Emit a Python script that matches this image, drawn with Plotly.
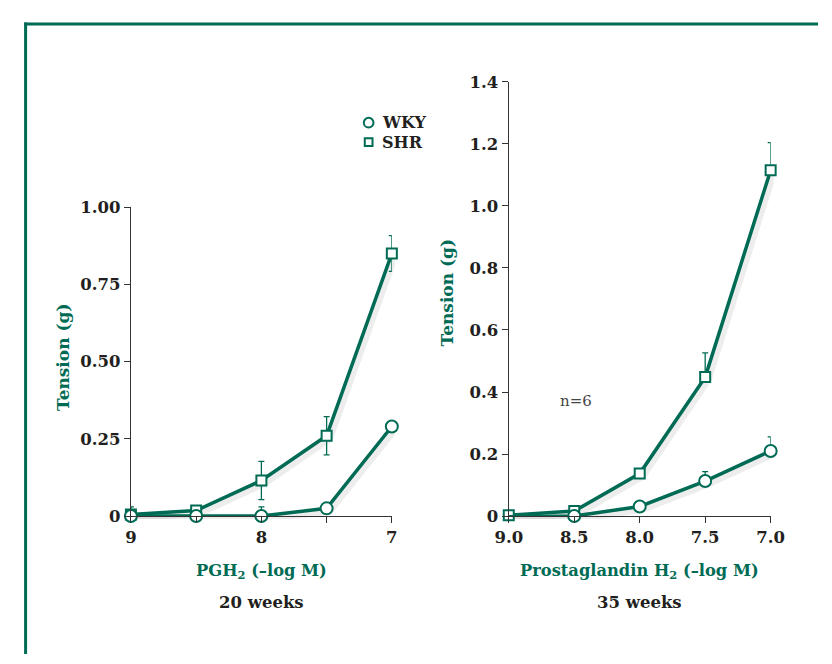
import plotly.graph_objects as go

# ---- data ----
conc_20 = [9, 8.5, 8, 7.5, 7]
wky_20 = [0.0, 0.0, 0.0, 0.025, 0.29]
wky_20_err = [0.0, 0.0, 0.03, 0.0, 0.0]
shr_20 = [0.005, 0.018, 0.115, 0.26, 0.85]
shr_20_err = [0.025, 0.0, 0.062, 0.062, 0.058]

conc_35 = [9.0, 8.5, 8.0, 7.5, 7.0]
wky_35 = [-0.002, 0.0, 0.031, 0.113, 0.21]
wky_35_err = [0.0, 0.0, 0.0, 0.03, 0.045]
shr_35 = [0.003, 0.016, 0.137, 0.448, 1.115]
shr_35_err = [0.0, 0.0, 0.0, 0.078, 0.089]

ticks_20 = [9, 8.5, 8, 7.5, 7]
ticklabels_20 = ["9", "", "8", "", "7"]
ticks_35 = [9.0, 8.5, 8.0, 7.5, 7.0]
ticklabels_35 = ["9.0", "8.5", "8.0", "7.5", "7.0"]
yticks_20 = [0, 0.25, 0.5, 0.75, 1.0]
yticklabels_20 = ["0", "0.25", "0.50", "0.75", "1.00"]
yticks_35 = [0, 0.2, 0.4, 0.6, 0.8, 1.0, 1.2, 1.4]
yticklabels_35 = ["0", "0.2", "0.4", "0.6", "0.8", "1.0", "1.2", "1.4"]

GREEN = "#006B54"
DARK = "#231F20"
W, H = 832, 664
TICKFONT = dict(family="DejaVu Serif", size=16.5, color=DARK, weight="bold")

def px_x(p):
    return p / W

def px_y(p):
    return 1 - p / H

dom_x1 = [px_x(121), px_x(391)]
dom_y1 = [px_y(522), px_y(204)]
dom_x2 = [px_x(512), px_x(783)]
dom_y2 = [px_y(522), px_y(75)]
sdx, sdy = 3 / W, 3 / H

fig = go.Figure()

# soft drop shadows: same data on invisible axes shifted by a few pixels (lower layer)
for xs, ys, xa, ya in [(conc_20, shr_20, "x", "y"), (conc_20, wky_20, "x", "y"),
                       (conc_35, shr_35, "x2", "y2"), (conc_35, wky_35, "x2", "y2")]:
    fig.add_trace(go.Scatter(x=xs, y=ys, xaxis=xa, yaxis=ya, mode="lines",
                             line=dict(color="rgba(0,0,0,0.07)", width=7),
                             hoverinfo="skip", showlegend=False, cliponaxis=False))

def add_series(xs, ys, err, sym, xa, ya, both, size):
    fig.add_trace(go.Scatter(
        x=xs, y=ys, xaxis=xa, yaxis=ya, mode="lines+markers",
        line=dict(color=GREEN, width=3.5),
        marker=dict(symbol=sym, size=size, color="white", line=dict(color=GREEN, width=2)),
        error_y=dict(type="data", array=err, arrayminus=(err if both else [0] * len(err)),
                     symmetric=False, color=GREEN, thickness=1.3, width=3),
        showlegend=False, cliponaxis=False))

add_series(conc_20, shr_20, shr_20_err, "square", "x3", "y3", True, 10)
add_series(conc_20, wky_20, wky_20_err, "circle", "x3", "y3", True, 12)
add_series(conc_35, shr_35, shr_35_err, "square", "x4", "y4", False, 10)
add_series(conc_35, wky_35, wky_35_err, "circle", "x4", "y4", False, 12)

axis_common = dict(showgrid=False, zeroline=False, showline=True, linecolor="#333333",
                   linewidth=1.3, ticks="outside", tickcolor="#333333", tickwidth=1.3,
                   ticklen=6, tickfont=TICKFONT)

fig.update_layout(
    width=W, height=H, margin=dict(l=0, r=0, t=0, b=0),
    paper_bgcolor="white", plot_bgcolor="rgba(0,0,0,0)",
    xaxis=dict(domain=[dom_x1[0] + sdx, dom_x1[1] + sdx], range=[9, 7], anchor="y", visible=False),
    yaxis=dict(domain=[dom_y1[0] - sdy, dom_y1[1] - sdy], range=[0, 1.0], anchor="x", visible=False),
    xaxis2=dict(domain=[dom_x2[0] + sdx, dom_x2[1] + sdx], range=[9, 7], anchor="y2", visible=False),
    yaxis2=dict(domain=[dom_y2[0] - sdy, dom_y2[1] - sdy], range=[0, 1.4], anchor="x2", visible=False),
    xaxis3=dict(domain=dom_x1, range=[9, 7], anchor="y3", tickvals=ticks_20,
                ticktext=ticklabels_20, **axis_common),
    yaxis3=dict(domain=dom_y1, range=[0, 1.0], anchor="x3", tickvals=yticks_20,
                ticktext=yticklabels_20, **axis_common),
    xaxis4=dict(domain=dom_x2, range=[9, 7], anchor="y4", tickvals=ticks_35,
                ticktext=ticklabels_35, **axis_common),
    yaxis4=dict(domain=dom_y2, range=[0, 1.4], anchor="x4", tickvals=yticks_35,
                ticktext=yticklabels_35, **axis_common),
)

TITLE_FONT = dict(family="DejaVu Serif", size=17, color=GREEN, weight="bold")
XT_FONT = dict(family="DejaVu Serif", size=16.3, color=GREEN, weight="bold")
BLACK_BOLD = dict(family="DejaVu Serif", size=16.5, color=DARK, weight="bold")
LEG_FONT = dict(family="DejaVu Serif", size=16, color=DARK, weight="bold")

ann = [
    dict(x=px_x(50), y=px_y(358), text="Tension (g)", textangle=-90, font=TITLE_FONT),
    dict(x=px_x(448), y=px_y(292), text="Tension (g)", textangle=-90, font=TITLE_FONT),
    dict(x=px_x(256), y=px_y(579), text="PGH<sub>2</sub> (–log M)", font=XT_FONT),
    dict(x=px_x(647), y=px_y(579), text="Prostaglandin H<sub>2</sub> (–log M)", font=XT_FONT),
    dict(x=px_x(256), y=px_y(611), text="20 weeks", font=BLACK_BOLD),
    dict(x=px_x(647), y=px_y(611), text="35 weeks", font=BLACK_BOLD),
    dict(x=px_x(379), y=px_y(117), text="WKY", xanchor="left", font=LEG_FONT),
    dict(x=px_x(379), y=px_y(137), text="SHR", xanchor="left", font=LEG_FONT),
    dict(x=px_x(582), y=px_y(404), text="n=6",
         font=dict(family="DejaVu Serif", size=15, color="#444444")),
]
for a in ann:
    a.update(xref="paper", yref="paper", showarrow=False)
    a.setdefault("xanchor", "center")
    a.setdefault("yanchor", "middle")
fig.update_layout(annotations=ann)

shapes = [
    # legend symbols
    dict(type="circle", xref="paper", yref="paper",
         x0=px_x(362), x1=px_x(372), y0=px_y(122), y1=px_y(112),
         line=dict(color=GREEN, width=2), fillcolor="white"),
    dict(type="rect", xref="paper", yref="paper",
         x0=px_x(363), x1=px_x(371), y0=px_y(141), y1=px_y(133),
         line=dict(color=GREEN, width=2), fillcolor="white"),
    # frame
    dict(type="line", xref="paper", yref="paper", x0=px_x(10.5), x1=1.0,
         y0=px_y(15.5), y1=px_y(15.5), line=dict(color=GREEN, width=3)),
    dict(type="line", xref="paper", yref="paper", x0=px_x(12), x1=px_x(12),
         y0=px_y(14), y1=0, line=dict(color=GREEN, width=3)),
]
fig.update_layout(shapes=shapes)

fig.write_html("out.html")
